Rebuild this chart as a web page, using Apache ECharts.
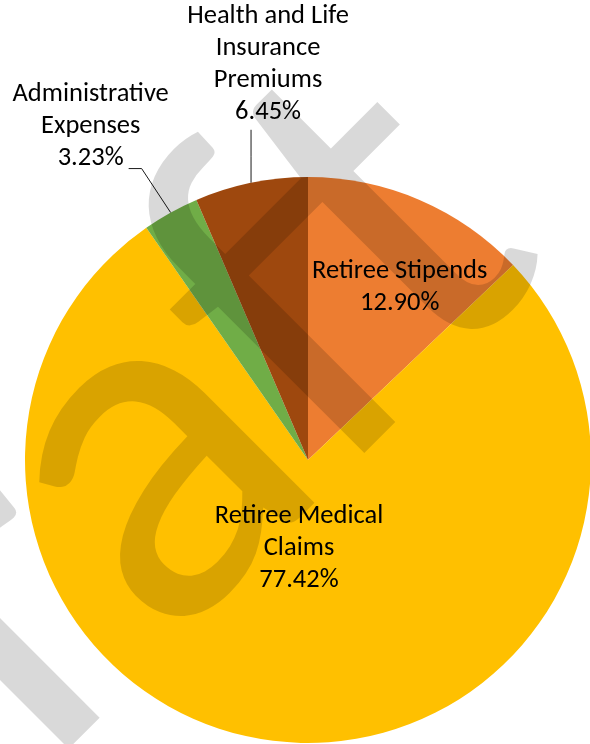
<!DOCTYPE html>
<html>
<head>
<meta charset="utf-8">
<script src="https://cdn.jsdelivr.net/npm/echarts@6/dist/echarts.min.js"></script>
<style>
  html, body { margin: 0; padding: 0; background: #ffffff; }
  #chart { width: 590px; height: 744px; }
</style>
</head>
<body>
<div id="chart"></div>
<script>
// Slices, clockwise from 12 o'clock
const categories = ['Retiree Stipends', 'Retiree Medical Claims', 'Administrative Expenses', 'Health and Life Insurance Premiums'];
const labelNames = ['Retiree Stipends', 'Retiree Medical\nClaims', 'Administrative\nExpenses', 'Health and Life\nInsurance\nPremiums'];
const shares = [12.90, 77.42, 3.23, 6.45];
const colors = ['#ED7D31', '#FFC000', '#70AD47', '#9E480E'];
const watermarkText = 'Draft';

const CX = 308, CY = 460, R = 283;
const FONT = 'Carlito, Calibri, Lato, sans-serif';

// Mid-angle of every slice (degrees, counter-clockwise from 3 o'clock)
const total = shares.reduce((a, b) => a + b, 0);
const midAngles = [];
let acc = 0;
shares.forEach(v => { midAngles.push(90 - (acc + v / 2) / total * 360); acc += v; });

function polar(r, deg) {
  const a = deg * Math.PI / 180;
  return [CX + r * Math.cos(a), CY - r * Math.sin(a)];
}

// Label placement: inside labels sit on a fraction of the radius,
// outside labels are offset from the rim point and joined by a leader line.
const placement = [
  { inside: true, frac: 0.69, shift: -4.8 },
  { inside: true, frac: 0.315, shift: 0 },
  { inside: false, dx: -80, dy: -86, bend: [-29, -44], end: [-42, -44] },
  { inside: false, dx: 17, dy: -118, bend: [0, -26], end: [0, -53] }
];

const chart = echarts.init(document.getElementById('chart'), null, { renderer: 'canvas' });

chart.setOption({
  animation: false,
  backgroundColor: '#ffffff',
  series: [{
    type: 'pie',
    center: [CX, CY],
    radius: R,
    startAngle: 90,
    clockwise: true,
    avoidLabelOverlap: false,
    silent: true,
    itemStyle: { borderWidth: 0 },
    label: {
      show: true,
      color: '#000000',
      fontFamily: FONT,
      fontSize: 26.5,
      lineHeight: 32,
      align: 'center',
      formatter: p => labelNames[p.dataIndex] + '\n' + shares[p.dataIndex].toFixed(2) + '%'
    },
    labelLine: {
      show: true,
      smooth: false,
      length: 10,
      length2: 10,
      lineStyle: { color: '#1a1a1a', width: 1 }
    },
    labelLayout: function (params) {
      const i = params.dataIndex;
      const pl = placement[i];
      if (pl.inside) {
        const pt = polar(R * pl.frac, midAngles[i] + pl.shift);
        return { x: pt[0], y: pt[1], align: 'center', verticalAlign: 'middle' };
      }
      const rim = polar(R, midAngles[i]);
      return {
        x: rim[0] + pl.dx,
        y: rim[1] + pl.dy,
        align: 'center',
        verticalAlign: 'middle',
        labelLinePoints: [
          rim,
          [rim[0] + pl.bend[0], rim[1] + pl.bend[1]],
          [rim[0] + pl.end[0], rim[1] + pl.end[1]]
        ]
      };
    },
    data: categories.map((name, i) => ({
      name: name,
      value: shares[i],
      itemStyle: { color: colors[i] },
      label: { position: placement[i].inside ? 'inside' : 'outside' },
      labelLine: { show: !placement[i].inside }
    }))
  }],
  graphic: [{
    // diagonal "Draft" stamp across the chart
    type: 'text',
    z: 100,
    silent: true,
    x: 100,
    y: 537,
    rotation: Math.PI / 4,
    style: {
      text: watermarkText,
      fontFamily: FONT,
      fontSize: 510,
      fill: 'rgba(0,0,0,0.15)',
      align: 'center',
      verticalAlign: 'middle'
    }
  }]
});
</script>
</body>
</html>
